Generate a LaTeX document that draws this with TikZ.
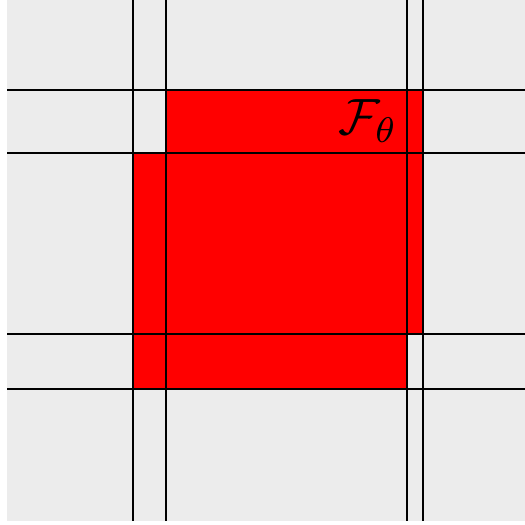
\documentclass[tikz,border=0pt]{standalone}
\begin{document}
\begin{tikzpicture}[x=1pt,y=-1pt,
  gridline/.style={line width=1.6pt,black},
  bg/.style={fill={rgb,255:red,236;green,236;blue,236}}]
\useasboundingbox (0,0) rectangle (525,525);
\fill[bg] (7,0) rectangle (525,521);
\fill[red] (166,90) -- (423,90) -- (423,334) -- (407,334) -- (407,389) -- (133,389) -- (133,153) -- (166,153) -- cycle;
\foreach \x in {133,166,407,423} \draw[gridline] (\x,0) -- (\x,521);
\foreach \y in {90,153,334,389} \draw[gridline] (7,\y) -- (525,\y);
\node[scale=5.1] (label) at (368,121) {$\mathcal{F}_\theta$};
\end{tikzpicture}
\end{document}
